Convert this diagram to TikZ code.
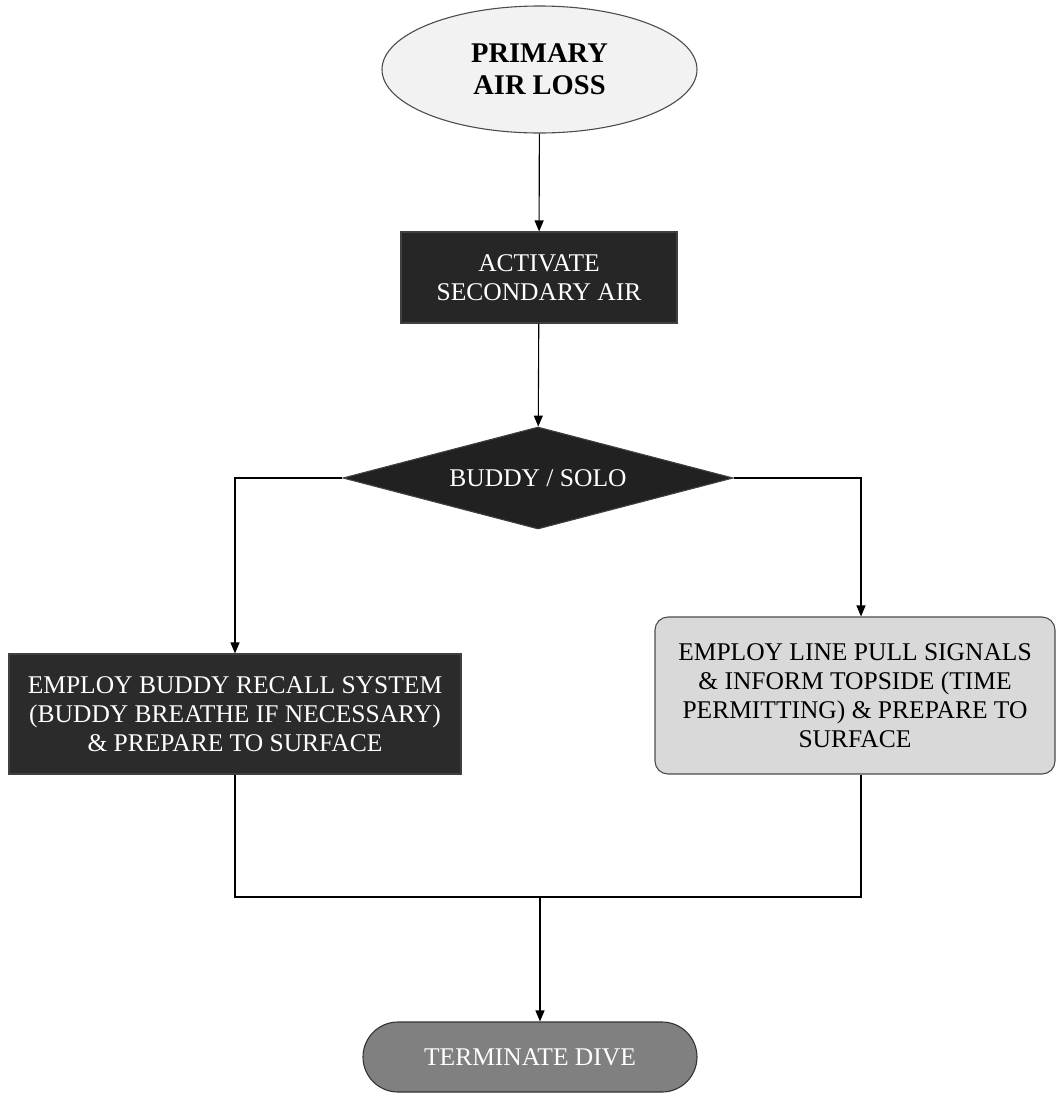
\documentclass[tikz,border=0pt]{standalone}
\usepackage{fontspec}
\setmainfont{Liberation Serif}
\usepackage{tikz}
\usetikzlibrary{shapes.geometric}
\usetikzlibrary{arrows.meta}
\usepackage{xcolor}

\begin{document}
\begin{tikzpicture}[x=1pt,y=-1pt,line width=1.1pt,
    txt/.style={font=\fontsize{25.5}{28.8}\selectfont,align=center,inner sep=0pt},
    darkbox/.style={txt,draw=black!75,fill=black!85,text=white},
    arr/.style={-{Triangle[length=11pt,width=9pt]}}]
    \useasboundingbox (0,0) rectangle (1057,1093);
    \node[txt,ellipse,draw=black!70,fill=black!5,minimum width=315pt,minimum height=127pt,font=\fontsize{28.5}{32}\selectfont\bfseries] (loss) at (539.5,69.5) {PRIMARY\\AIR LOSS};
    \node[darkbox,minimum width=276pt,minimum height=91pt] (act) at (539,277.5) {ACTIVATE\\SECONDARY AIR};
    \node[darkbox,diamond,aspect=3.8,minimum width=390pt,minimum height=102pt,fill=black!87] (choice) at (538,478) {BUDDY / SOLO};
    \node[darkbox,minimum width=452pt,minimum height=120pt,fill=black!83] (buddy) at (235,714) {EMPLOY BUDDY RECALL SYSTEM\\(BUDDY BREATHE IF NECESSARY)\\\& PREPARE TO SURFACE};
    \node[txt,draw=black!70,fill=black!15,rounded corners=13pt,minimum width=400pt,minimum height=157pt] (solo) at (855,695.5) {EMPLOY LINE PULL SIGNALS\\\& INFORM TOPSIDE (TIME\\PERMITTING) \& PREPARE TO\\SURFACE};
    \node[txt,draw=black!80,fill=black!50,text=white,rounded corners=35pt,minimum width=334pt,minimum height=70pt] (term) at (530,1057) {TERMINATE DIVE};

    \coordinate (rj) at (861,478);
    \coordinate (mj) at (540,897);
    \draw[arr] (loss) -- (act);
    \draw[arr] (act) -- (choice);
    \draw[arr] (choice.west) -| (buddy.north);
    \draw[arr] (choice.east) -- (rj) -- (rj |- solo.north);
    \draw (buddy.south) |- (mj) -| (rj |- solo.south);
    \draw[arr] (mj) -- (mj |- term.north);
\end{tikzpicture}
\end{document}
